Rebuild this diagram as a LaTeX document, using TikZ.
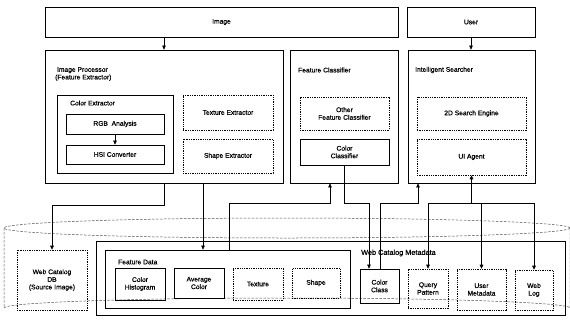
\documentclass[tikz,border=0pt]{standalone}
\usepackage{fontspec}
\setmainfont{Liberation Sans}[UprightFeatures={FakeBold=0.6}]
\usetikzlibrary{arrows.meta,calc}
\begin{document}
\begin{tikzpicture}[x=1pt,y=-1pt,
  every node/.style={font=\fontsize{6.7}{7.6}\selectfont, inner sep=0pt, align=center},
  sbox/.style={draw, line width=0.75pt, rectangle},
  dbox/.style={draw, line width=0.6pt, rectangle, dash pattern=on 1.3pt off 1pt},
  lbl/.style={anchor=west, align=left},
  arr/.style={line width=0.65pt, -{Triangle[length=4pt,width=3.6pt]}},
  cyl/.style={line width=0.5pt, dash pattern=on 2.5pt off 1.5pt, gray!60!black}]
\useasboundingbox (0,0) rectangle (570,322);
% cylinder (database)
\draw[cyl] (287,228) ellipse [x radius=283, y radius=10];
\draw[cyl] (4,228) -- (4,308) arc [start angle=180, end angle=360, x radius=283, y radius=10] -- (570,228);
% top boxes
\node[sbox, minimum width=353, minimum height=30] (image) at (221.5,22) {Image};
\node[sbox, minimum width=128, minimum height=30] (user) at (471,22) {User};
% main modules
\node[sbox, minimum width=238, minimum height=133] (ip) at (164,116.5) {};
\node[lbl] (iptitle) at (55,74) {\ Image Processor\\(Feature Extractor)};
\node[sbox, minimum width=108, minimum height=133] (fc) at (344,116.5) {};
\node[lbl] (fctitle) at (298,70) {Feature Classifier};
\node[sbox, minimum width=127, minimum height=133] (is) at (471.5,116.5) {};
\node[lbl] (istitle) at (415,70) {Intelligent Searcher};
% image processor internals
\node[sbox, minimum width=116, minimum height=78] (ce) at (115,134) {};
\node[lbl] (cetitle) at (70,103) {Color Extractor};
\node[sbox, minimum width=98, minimum height=20] (rgb) at (115,124) {RGB\ \ Analysis};
\node[sbox, minimum width=98, minimum height=19] (hsi) at (115,154.5) {HSI Converter};
\node[dbox, minimum width=90, minimum height=35] (te) at (228,112.5) {Texture Extractor};
\node[dbox, minimum width=90, minimum height=34] (se) at (228,156) {Shape Extractor};
% feature classifier internals
\node[dbox, minimum width=89, minimum height=33] (ofc) at (344.5,113.5) {Other\\Feature Classifier};
\node[sbox, minimum width=89, minimum height=26] (ccl) at (344.5,152) {Color\\Classifier};
% intelligent searcher internals
\node[dbox, minimum width=109, minimum height=33] (se2d) at (471.5,113.5) {2D Search Engine};
\node[dbox, minimum width=109, minimum height=36] (ui) at (471.5,157) {UI Agent};
% bottom: storage
\node[dbox, minimum width=70, minimum height=60] (db) at (52,280) {Web Catalog\\DB\\(Source Image)};
\node[sbox, minimum width=469, minimum height=74] (meta) at (330.5,278) {};
\node[anchor=west, font=\fontsize{7.3}{8}\selectfont] (metatitle) at (361,253) {Web Catalog Metadata};
\node[sbox, minimum width=245, minimum height=58] (fd) at (227.5,279) {};
\node[lbl] (fdtitle) at (118,262) {Feature Data};
\node[sbox, minimum width=50, minimum height=32] (ch) at (140,284) {Color\\Histogram};
\node[sbox, minimum width=50, minimum height=30] (ac) at (199,283) {Average\\Color};
\node[dbox, minimum width=50, minimum height=32] (tx) at (258,284) {Texture};
\node[dbox, minimum width=48, minimum height=30] (sh) at (316,283) {Shape};
\node[sbox, minimum width=39, minimum height=34] (cc) at (379.5,286) {Color\\Class};
\node[dbox, minimum width=40, minimum height=39] (qp) at (428,288.5) {Query\\Pattern};
\node[dbox, minimum width=49, minimum height=41] (um) at (481.5,289.5) {User\\Metadata};
\node[dbox, minimum width=38, minimum height=40] (wl) at (534,290) {Web\\Log};
% connectors
\draw[arr] (image.south -| ip.north) -- (ip.north);
\draw[arr] (user.south) -- (user.south |- is.north);
\draw[arr] (rgb) -- (hsi);
\draw[arr] (ip.south) -- (ip.south |- 0,205) -| (db.north);
\draw[arr] (ip.south -| 203,0) -- (fd.north -| 203,0);
\draw[arr] (fd.north -| 229,0) -- (229,203) -| (fc.south -| 330,0);
\draw[arr] (ccl.south) -- (ccl.south |- 0,203) -| (cc.north -| 369,0);
\draw[arr] (cc.north -| 380,0) -- (380,203) -| (is.south -| 418,0);
\coordinate (j) at (ui.south |- 0,203);
\draw[arr] (j) -- (ui.south);
\draw[arr] (j) -| (qp.north);
\draw[arr] (j) -| (um.north);
\draw[arr] (j) -| (wl.north);
\end{tikzpicture}
\end{document}
